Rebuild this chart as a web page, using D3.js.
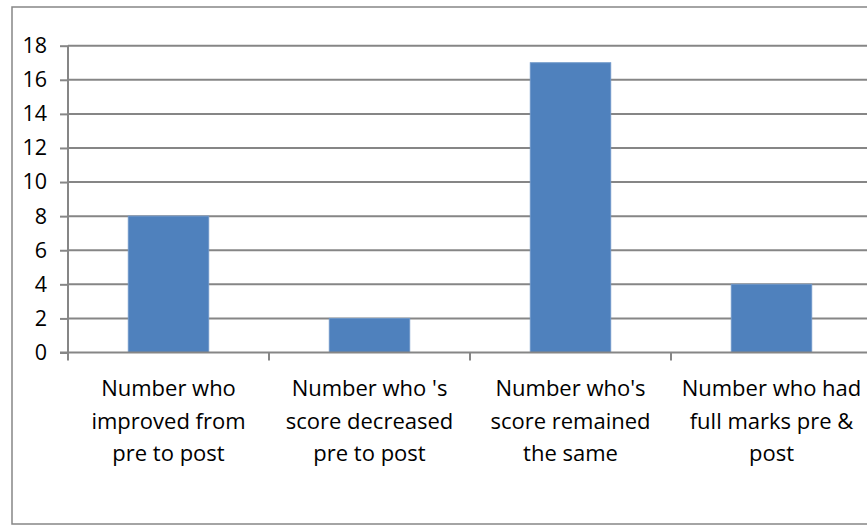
<!DOCTYPE html>
<html>
<head>
<meta charset="utf-8">
<script src="https://cdn.jsdelivr.net/npm/d3@7"></script>
<style>
  html, body { margin: 0; padding: 0; background: #fff; }
  svg { display: block; }
  text { font-family: "Open Sans", "Noto Sans", sans-serif; fill: #000; }
</style>
</head>
<body>
<script>
// Score change categories and counts of students in each
const categories = [
  ["Number who", "improved from", "pre to post"],
  ["Number who 's", "score decreased", "pre to post"],
  ["Number who's", "score remained", "the same"],
  ["Number who had", "full marks pre &", "post"]
];
const counts = [8, 2, 17, 4];
const yTicks = [0, 2, 4, 6, 8, 10, 12, 14, 16, 18];

const W = 867, H = 525;
const plot = { left: 68, top: 45.7, bottom: 352.5, bandW: 201 };

const svg = d3.select("body").append("svg")
  .attr("width", W).attr("height", H);

// chart frame
svg.append("rect")
  .attr("x", 12).attr("y", 7)
  .attr("width", W).attr("height", 517)
  .attr("fill", "#fff").attr("stroke", "#868686").attr("stroke-width", 1.5);

const x = d3.scaleBand()
  .domain(d3.range(categories.length))
  .range([plot.left, plot.left + plot.bandW * categories.length])
  .paddingInner(0.6).paddingOuter(0.3);

const y = d3.scaleLinear().domain([0, 18]).range([plot.bottom, plot.top]);

// horizontal gridlines
svg.append("g").selectAll("line").data(yTicks.filter(d => d > 0)).join("line")
  .attr("x1", plot.left).attr("x2", W)
  .attr("y1", d => y(d)).attr("y2", d => y(d))
  .attr("stroke", "#868686").attr("stroke-width", 2);

// bars
svg.append("g").selectAll("rect").data(counts).join("rect")
  .attr("x", (d, i) => x(i))
  .attr("width", x.bandwidth())
  .attr("y", d => y(d))
  .attr("height", d => y(0) - y(d))
  .attr("fill", "#4f81bd")
  .attr("stroke", "#6f97c9").attr("stroke-width", 1);

// y axis
const yAxis = d3.axisLeft(y).tickValues(yTicks).tickSize(8).tickPadding(13).tickFormat(d3.format("d"));
const gy = svg.append("g").attr("transform", `translate(${plot.left},0)`).call(yAxis);
gy.select(".domain").attr("stroke", "#868686").attr("stroke-width", 2)
  .attr("d", `M0,${plot.top}V${plot.bottom + 1}`);
gy.selectAll(".tick line").attr("stroke", "#868686").attr("stroke-width", 2);
gy.selectAll(".tick text").attr("font-size", 21.5).attr("font-family", "Open Sans").attr("fill", "#000");

// x axis baseline with category boundary ticks
const xg = svg.append("g");
xg.append("line")
  .attr("x1", plot.left - 8).attr("x2", W)
  .attr("y1", y(0)).attr("y2", y(0))
  .attr("stroke", "#868686").attr("stroke-width", 2);
xg.selectAll("line.tk").data(d3.range(categories.length)).join("line")
  .attr("class", "tk")
  .attr("x1", i => plot.left + plot.bandW * i).attr("x2", i => plot.left + plot.bandW * i)
  .attr("y1", y(0)).attr("y2", y(0) + 8)
  .attr("stroke", "#868686").attr("stroke-width", 2);

// category labels
const lab = svg.append("g").selectAll("text").data(categories).join("text")
  .attr("text-anchor", "middle")
  .attr("font-size", 22)
  .attr("x", (d, i) => plot.left + plot.bandW * (i + 0.5))
  .attr("y", 396);
lab.selectAll("tspan").data(d => d).join("tspan")
  .attr("x", function () { return d3.select(this.parentNode).attr("x"); })
  .attr("dy", (d, j) => j === 0 ? 0 : 32.5)
  .text(d => d);
</script>
</body>
</html>
